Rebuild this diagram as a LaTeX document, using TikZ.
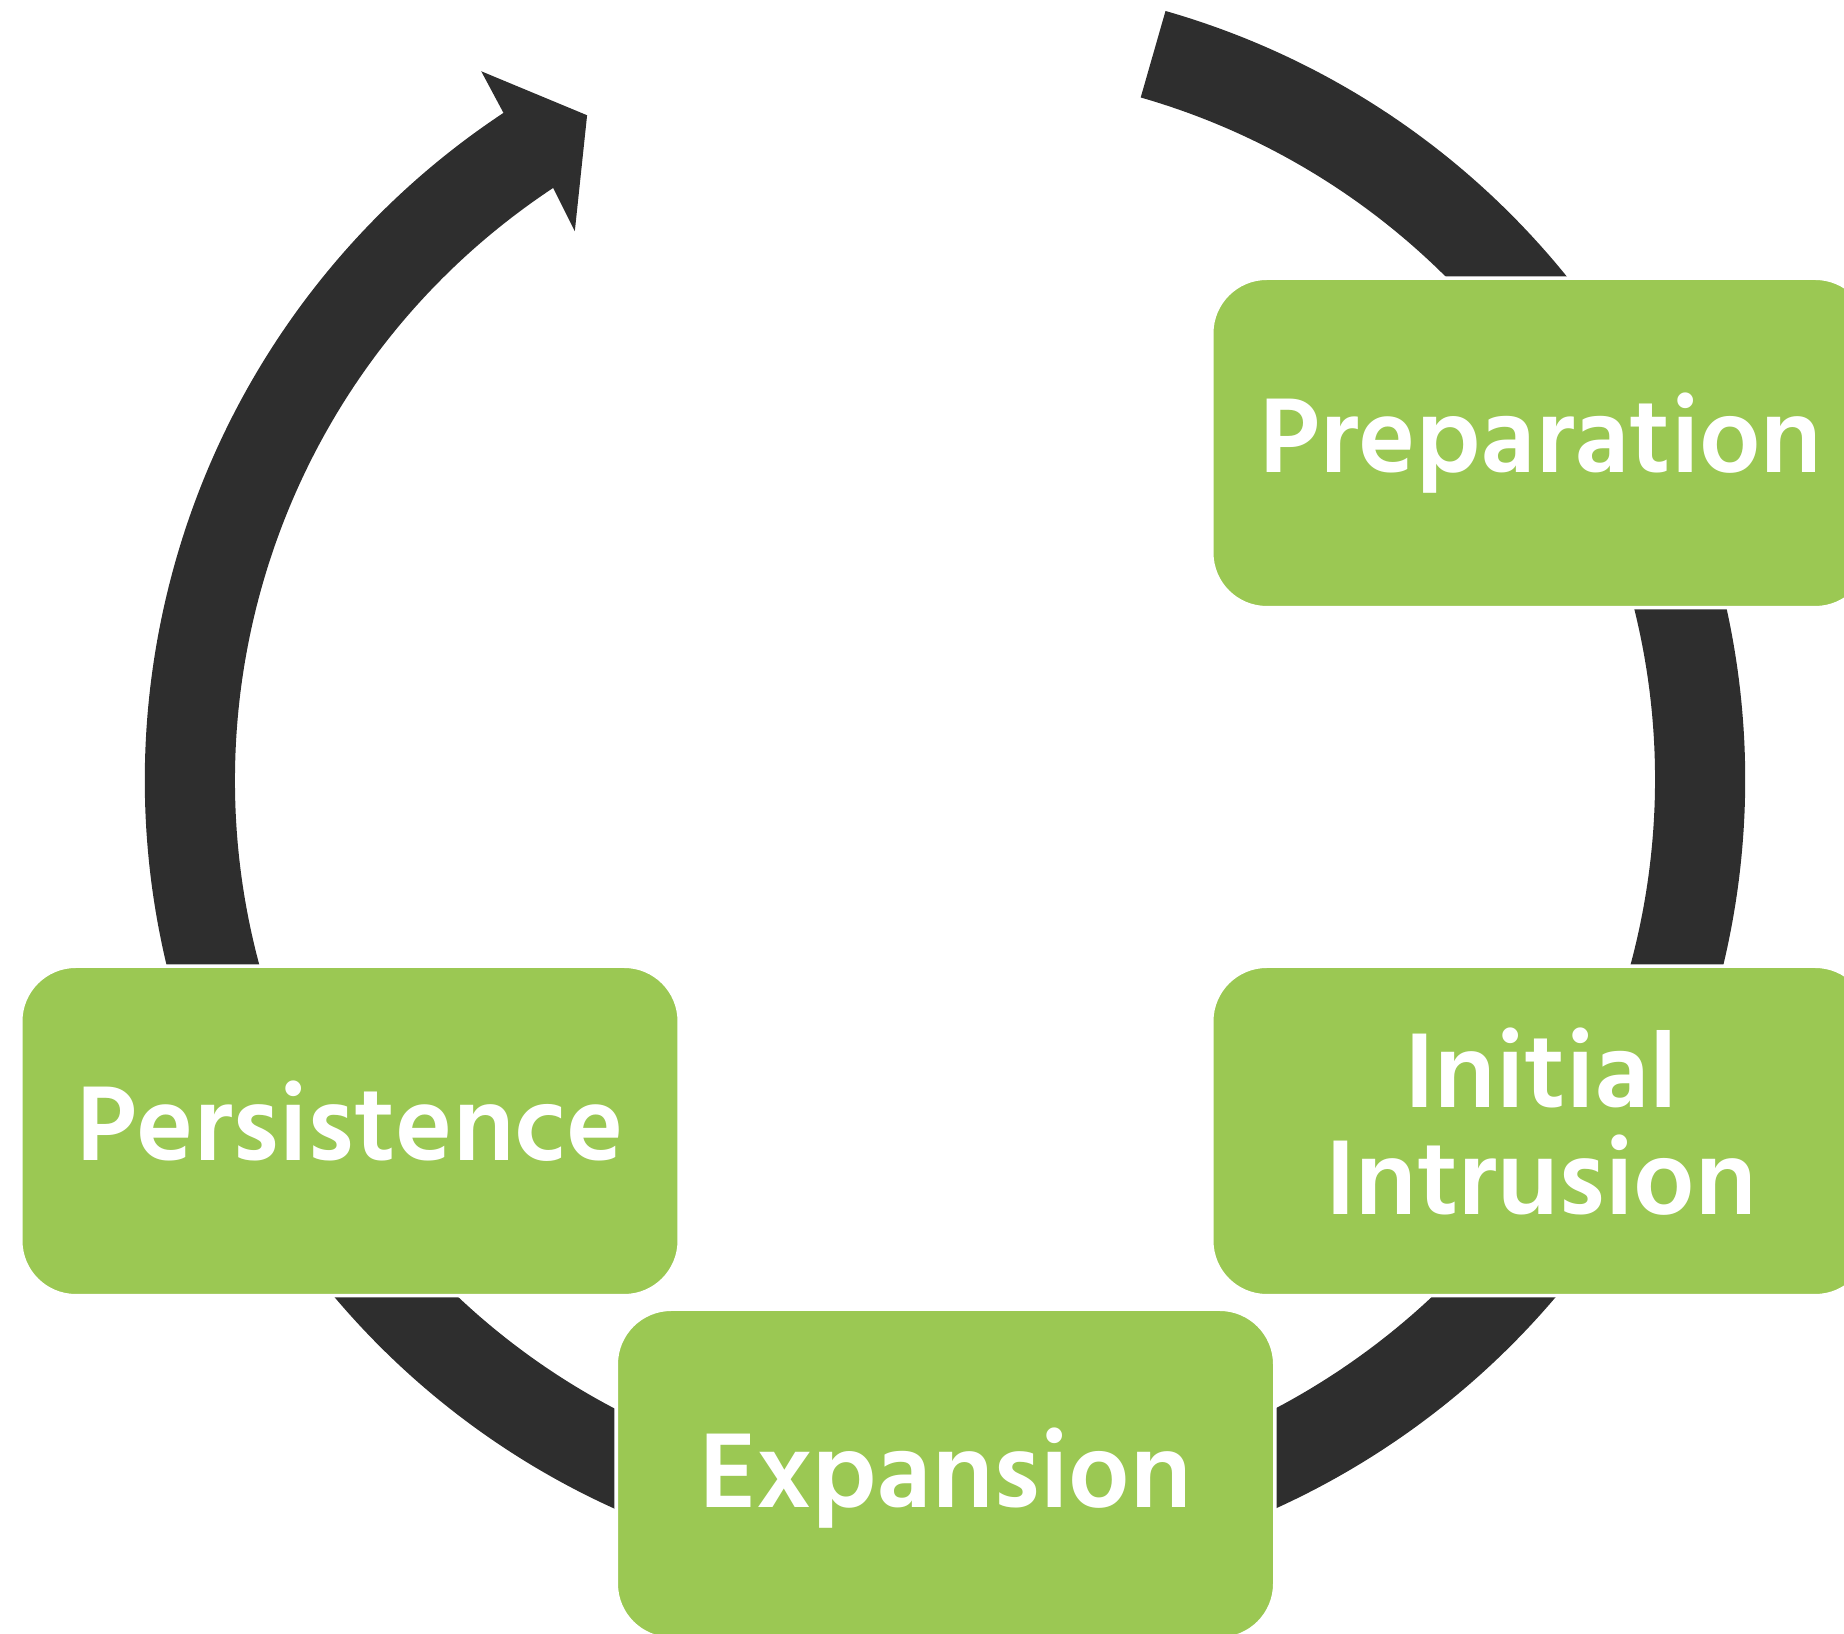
\documentclass[tikz,border=0pt]{standalone}
\usepackage{fontspec}
\newfontfamily\stagefont{Hind Siliguri}[UprightFont=* SemiBold]
\definecolor{ringgray}{RGB}{46,46,46}
\definecolor{stagegreen}{RGB}{155,200,83}
\begin{document}
\begin{tikzpicture}[%
% common options for the stage boxes:
stagebox/.style = {rectangle, rounded corners=0.55cm, fill=stagegreen, draw=white,
            line width=1pt, minimum width=6.585cm, minimum height=3.295cm,
            align=center, text=white, inner sep=0,
            text height=0.75cm, text depth=0.15cm,
            font=\stagefont\fontsize{31}{30.7}\selectfont}]
\useasboundingbox (0,0) rectangle (18.44,16.34);
% the cycle ring with its arrow head
\begin{scope}[shift={(9.45,8.54)}]
\fill[ringgray] (74:8) arc[start angle=74, end angle=-236.5, radius=8]
  -- (123.2:8.47) -- (118.3:7.55) -- (124:6.62)
  -- (-236.5:7.1) arc[start angle=-236.5, end angle=74, radius=7.1] -- cycle;
\end{scope}
\node[stagebox] (prep) at (15.41,11.91) {Preparation};
\node[stagebox, text height=1.9cm, text depth=0.22cm] (intr) at (15.41,5.03) {Initial\\Intrusion};
\node[stagebox, text depth=0.08cm] (expa) at (9.455,1.60) {Expansion};
\node[stagebox] (pers) at (3.50,5.03) {Persistence};
\end{tikzpicture}
\end{document}
